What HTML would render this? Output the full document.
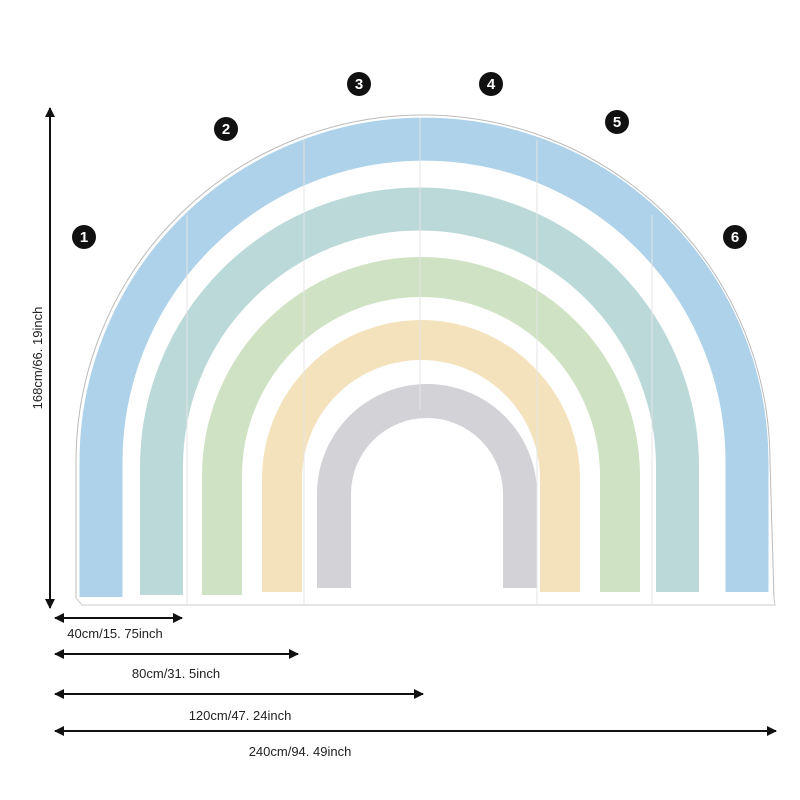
<!DOCTYPE html>
<html><head><style>body{margin:0;background:#fff}svg{display:block}</style></head><body>
<svg width="800" height="800" viewBox="0 0 800 800" xmlns="http://www.w3.org/2000/svg" font-family="Liberation Sans, sans-serif">
<defs><marker id="a" markerWidth="10" markerHeight="10" refX="9" refY="5" orient="auto-start-reverse" markerUnits="userSpaceOnUse"><path d="M0,0 L10,5 L0,10 Z" fill="#111"/></marker></defs>
<path d="M76 598 L76 462 A347 347 0 0 1 770 462 L774 598" fill="none" stroke="#bbb" stroke-width="1"/>
<path d="M76 598 L82 605 L775 605 L774 598" fill="none" stroke="#ccc" stroke-width="1"/>
<g fill="none" stroke-linecap="butt">
<path d="M101 597 L101 462 A323 323 0 0 1 747 462 L747 592" stroke="#aed2ea" stroke-width="43"/>
<path d="M161.5 595 L161.5 467 A258 258 0 0 1 677.5 467 L677.5 592" stroke="#bcd9da" stroke-width="43"/>
<path d="M222 595 L222 476 A199 199 0 0 1 620 476 L620 592" stroke="#cfe2c3" stroke-width="40"/>
<path d="M282 592 L282 479 A139 139 0 0 1 560 479 L560 592" stroke="#f4e2bd" stroke-width="40"/>
<path d="M334 588 L334 494 A93 93 0 0 1 520 494 L520 588" stroke="#d3d3d7" stroke-width="34"/>
</g>
<g stroke="#e4e4e4" stroke-width="1">
<line x1="187" y1="215" x2="187" y2="605"/><line x1="304" y1="140" x2="304" y2="605"/><line x1="420" y1="118" x2="420" y2="410"/>
<line x1="537" y1="140" x2="537" y2="605"/><line x1="652" y1="215" x2="652" y2="605"/>
</g>
<g fill="#111"><circle cx="84" cy="237" r="12"/><circle cx="226" cy="129" r="12"/><circle cx="359" cy="84" r="12"/><circle cx="491" cy="84" r="12"/><circle cx="617" cy="122" r="12"/><circle cx="735" cy="237" r="12"/></g>
<g fill="#fff" font-size="15" font-weight="bold" text-anchor="middle"><text x="84" y="242">1</text><text x="226" y="134">2</text><text x="359" y="89">3</text><text x="491" y="89">4</text><text x="617" y="127">5</text><text x="735" y="242">6</text></g>
<g stroke="#111" stroke-width="2" marker-start="url(#a)" marker-end="url(#a)">
<line x1="50" y1="108" x2="50" y2="608"/>
<line x1="55" y1="618" x2="182" y2="618"/>
<line x1="55" y1="654" x2="298" y2="654"/>
<line x1="55" y1="694" x2="423" y2="694"/>
<line x1="55" y1="731" x2="776" y2="731"/>
</g>
<g fill="#222" font-size="13" text-anchor="middle">
<text transform="translate(42,358) rotate(-90)">168cm/66. 19inch</text>
<text x="115" y="638">40cm/15. 75inch</text>
<text x="176" y="678">80cm/31. 5inch</text>
<text x="240" y="720">120cm/47. 24inch</text>
<text x="300" y="756">240cm/94. 49inch</text>
</g>
</svg>
</body></html>
